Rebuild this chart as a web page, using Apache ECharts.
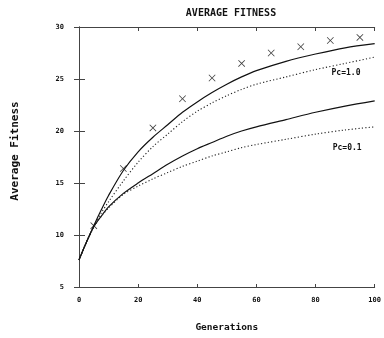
<!DOCTYPE html>
<html>
<head>
<meta charset="utf-8">
<script src="https://cdn.jsdelivr.net/npm/echarts@6/dist/echarts.min.js"></script>
<style>html,body{margin:0;padding:0;background:#fff}#c{width:384px;height:338px}</style>
</head>
<body>
<div id="c"></div>
<script>
// ---- data ----
var titleText = 'AVERAGE FITNESS';
var xName = 'Generations';
var yName = 'Average Fitness';
var xTicks = [0, 20, 40, 60, 80, 100];
var yTicks = [5, 10, 15, 20, 25, 30];

var curveX      = [0, 2.5, 5, 7.5, 10, 15, 20, 25, 30, 35, 40, 45, 50, 55, 60, 70, 80, 90, 100];
var pc10Solid   = [7.6, 9.3, 10.9, 12.4, 13.8, 16.2, 18.0, 19.4, 20.6, 21.8, 22.8, 23.7, 24.5, 25.2, 25.8, 26.7, 27.4, 28.0, 28.4];
var pc10Dotted  = [7.6, 9.3, 10.8, 12.1, 13.2, 15.2, 17.0, 18.5, 19.7, 20.9, 21.9, 22.7, 23.4, 24.0, 24.5, 25.2, 25.9, 26.5, 27.1];
var pc01Solid   = [7.6, 9.3, 10.8, 11.8, 12.7, 14.0, 15.0, 15.9, 16.8, 17.6, 18.3, 18.9, 19.5, 20.0, 20.4, 21.1, 21.8, 22.4, 22.9];
var pc01Dotted  = [7.6, 9.3, 10.8, 11.8, 12.6, 13.9, 14.7, 15.4, 16.0, 16.6, 17.1, 17.6, 18.0, 18.4, 18.7, 19.2, 19.7, 20.1, 20.4];

var markX = [5, 15, 25, 35, 45, 55, 65, 75, 85, 95];
var markY = [10.9, 16.4, 20.3, 23.1, 25.1, 26.5, 27.5, 28.1, 28.7, 29.0];

var labelTexts = ['Pc=1.0', 'Pc=0.1'];
var labelPos = [[90.3, 25.6], [90.7, 18.4]];

function zip(xs, ys) { return xs.map(function (x, i) { return [x, ys[i]]; }); }

var MONO = '"DejaVu Sans Mono", monospace';
var chart = echarts.init(document.getElementById('c'), null, {renderer: 'canvas'});

function lineSeries(ys, dotted, extra) {
  var s = {
    type: 'line',
    data: zip(curveX, ys),
    showSymbol: false,
    smooth: 0.3,
    silent: true,
    lineStyle: dotted ? {color: '#222', width: 1.1, type: [1.2, 2.2]} : {color: '#111', width: 1.2}
  };
  if (extra) for (var k in extra) s[k] = extra[k];
  return s;
}

var axisLine = {show: true, lineStyle: {color: '#444', width: 1}};

chart.setOption({
  animation: false,
  backgroundColor: '#fff',
  title: {
    text: titleText,
    left: 226, top: 3, textAlign: 'center',
    textStyle: {fontFamily: MONO, fontWeight: 'bold', fontSize: 10, color: '#111'}
  },
  grid: {left: 79, right: 5, top: 27, bottom: 49},
  xAxis: [{
    type: 'value', min: 0, max: 100, interval: 20, position: 'bottom',
    name: xName, nameLocation: 'middle', nameGap: 36,
    nameTextStyle: {fontFamily: MONO, fontWeight: 'bold', fontSize: 9.5, color: '#111'},
    axisLine: axisLine,
    axisTick: {show: true, inside: true, length: 3, lineStyle: {color: '#444'}},
    axisLabel: {fontFamily: MONO, fontWeight: 'bold', fontSize: 7, color: '#111', margin: 10,
      formatter: function (v) { return xTicks.indexOf(v) >= 0 ? String(v) : ''; }},
    splitLine: {show: false}
  }, {
    type: 'value', min: 0, max: 100, interval: 20, position: 'top',
    axisLine: axisLine,
    axisTick: {show: true, inside: true, length: 4, lineStyle: {color: '#444'}},
    axisLabel: {show: false}, splitLine: {show: false}
  }],
  yAxis: [{
    type: 'value', min: 5, max: 30, interval: 5, position: 'left',
    name: yName, nameLocation: 'middle', nameGap: 58, nameRotate: 90,
    nameTextStyle: {fontFamily: MONO, fontWeight: 'bold', fontSize: 11, color: '#111', padding: [0, 0, 0, 12]},
    axisLine: axisLine,
    axisTick: {show: true, inside: true, length: 6, lineStyle: {color: '#444'}},
    axisLabel: {fontFamily: MONO, fontWeight: 'bold', fontSize: 7, color: '#111', margin: 15,
      formatter: function (v) { return yTicks.indexOf(v) >= 0 ? String(v) : ''; }},
    splitLine: {show: false}
  }, {
    type: 'value', min: 5, max: 30, interval: 5, position: 'right',
    axisLine: axisLine,
    axisTick: {show: true, inside: true, length: 5, lineStyle: {color: '#444'}},
    axisLabel: {show: false}, splitLine: {show: false}
  }],
  series: [
    lineSeries(pc10Solid, false, {
      markPoint: {
        symbol: 'circle', symbolSize: 0, silent: true,
        label: {show: true, position: 'inside', formatter: '{b}', fontFamily: MONO, fontWeight: 'bold', fontSize: 8, color: '#111'},
        data: [
          {name: labelTexts[0], coord: labelPos[0]},
          {name: labelTexts[1], coord: labelPos[1]}
        ]
      }
    }),
    lineSeries(pc10Dotted, true),
    lineSeries(pc01Solid, false),
    lineSeries(pc01Dotted, true),
    {
      type: 'scatter',
      data: zip(markX, markY),
      symbol: 'path://M0,0.8 L0.8,0 L5,4.2 L9.2,0 L10,0.8 L5.8,5 L10,9.2 L9.2,10 L5,5.8 L0.8,10 L0,9.2 L4.2,5 Z',
      symbolSize: 7,
      itemStyle: {color: '#111'},
      silent: true
    }
  ]
});
</script>
</body>
</html>
